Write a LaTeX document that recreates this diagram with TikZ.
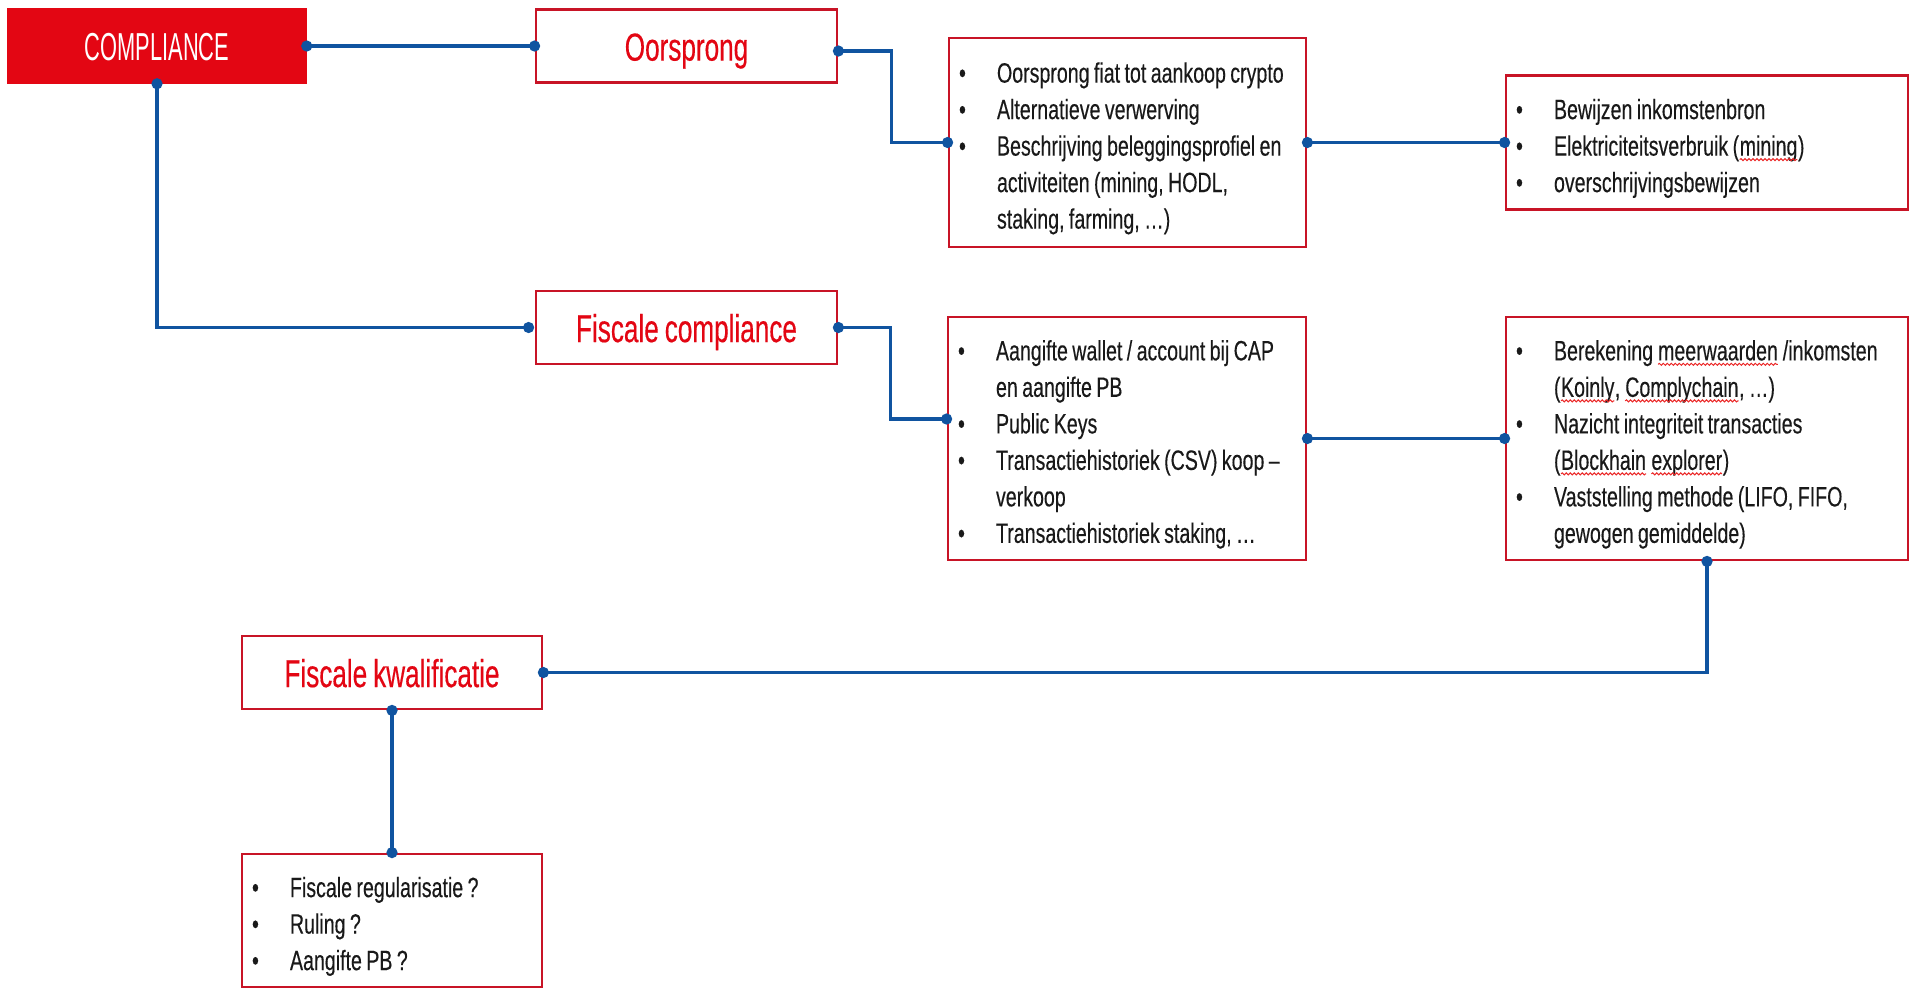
\documentclass[tikz,border=0pt]{standalone}
\usepackage{fontspec}
\usepackage{xcolor}
\usetikzlibrary{positioning, calc, arrows.meta, decorations.pathmorphing}
\setmainfont{Liberation Sans}
\newfontfamily\bodyfont[FakeStretch=0.70, FakeBold=0.3]{Liberation Sans}
\newfontfamily\headfont[FakeStretch=0.67, FakeBold=0.3]{Liberation Sans}
\newfontfamily\rootfont[FakeStretch=0.56]{Liberation Sans}
\newcommand{\headsize}{\fontsize{19.5}{20}\selectfont\spaceskip=3pt\relax}
\newcommand{\bodysize}{\fontsize{14}{18.25}\selectfont}
\definecolor{kred}{RGB}{227,6,19}
\definecolor{kline}{RGB}{200,20,38}
\definecolor{kblue}{RGB}{16,84,160}
\definecolor{ktext}{RGB}{25,25,25}
\definecolor{kwave}{RGB}{235,40,40}
\newcommand{\bit}[1]{\makebox[19pt][l]{\textbullet}\mbox{\spaceskip=2.2pt\relax #1}}
\newcommand{\cnt}[1]{\hspace*{19pt}\mbox{\spaceskip=2.2pt\relax #1}}
\newcommand{\spell}[1]{\tikz[baseline=(w.base), x=1pt, y=1pt]{%
  \node[draw=none, fill=none, inner sep=0pt, outer sep=0pt, minimum width=0pt, minimum height=0pt, text width=, text height=, text depth=, align=none] (w) {#1};%
  \draw[kwave, line width=0.5pt, decorate, decoration={snake, amplitude=0.5pt, segment length=2pt}] ([yshift=-2pt]w.base west) -- ([yshift=-2pt]w.base east);}}
\tikzset{
  rootbox/.style={draw=kred, fill=kred, line width=1.25pt, minimum width=148.5pt, minimum height=36.5pt, inner sep=0pt, text height=14.6pt, text depth=0pt, text=white, font=\rootfont\fontsize{19.5}{20}\selectfont},
  headbox/.style={draw=kline, fill=white, line width=1.4pt, minimum width=150.5pt, minimum height=36.5pt, inner sep=0pt, text height=14.6pt, text depth=0pt, text=kred, font=\headfont\headsize},
  listbox/.style={draw=kline, line width=1.4pt, inner xsep=5pt, inner ysep=0pt, text height=16pt, align=left, text=ktext, font=\bodyfont\bodysize},
  link/.style={draw=kblue, line width=1.6pt, {Circle[length=5.5pt]}-{Circle[length=5.5pt]}, shorten <=-2.75pt, shorten >=-2.75pt}
}

\begin{document}
\begin{tikzpicture}[x=0.5pt,y=-0.5pt]
      \useasboundingbox (0,0) rectangle (1910,993);
      \node[rootbox] (comp) at (157,46) {COMPLIANCE};%root
      \node[headbox] (oors) at (686.5,46) {Oorsprong};
      \node[headbox] (fisc) at (686.5,327.5) {Fiscale compliance};
      \node[headbox, minimum width=150pt] (kwal) at (392,672.5) {Fiscale kwalificatie};
      \node[listbox, text width=168.5pt, minimum height=104.5pt] (orig) at (1127.5,142.5)
        {\bit{Oorsprong fiat tot aankoop crypto}\\ \bit{Alternatieve verwerving}\\ \bit{Beschrijving beleggingsprofiel en}\\ \cnt{activiteiten (mining, HODL,}\\ \cnt{staking, farming, …)}};
      \node[listbox, text width=191pt, minimum height=67pt] (bewijs) at (1707,142.5)
        {\bit{Bewijzen inkomstenbron}\\ \bit{Elektriciteitsverbruik (\spell{mining})}\\ \bit{overschrijvingsbewijzen}};
      \node[listbox, text width=169pt, minimum height=121.5pt] (aangifte) at (1127,438.5)
        {\bit{Aangifte wallet / account bij CAP}\\ \cnt{en aangifte PB}\\ \bit{Public Keys}\\ \bit{Transactiehistoriek (CSV) koop –}\\ \cnt{verkoop}\\ \bit{Transactiehistoriek staking, …}};
      \node[listbox, text width=191pt, minimum height=121.5pt] (bereken) at (1707,438.5)
        {\bit{Berekening \spell{meerwaarden} /inkomsten}\\ \cnt{(\spell{Koinly}, \spell{Complychain}, …)}\\ \bit{Nazicht integriteit transacties}\\ \cnt{(\spell{Blockhain} \spell{explorer})}\\ \bit{Vaststelling methode (LIFO, FIFO,}\\ \cnt{gewogen gemiddelde)}};
      \node[listbox, text width=140pt, minimum height=66.5pt] (vraag) at (392,920.5)
        {\bit{Fiscale regularisatie ?}\\ \bit{Ruling ?}\\ \bit{Aangifte PB ?}};
      \draw[link] (comp.east) -- (oors.west);
      \draw[link] (comp.south) |- ([xshift=-3pt]fisc.west);
      \draw[link] ([yshift=-2.5pt]oors.east) -| ([xshift=-28pt]orig.west) -- (orig.west);
      \draw[link] (orig.east) -- (bewijs.west);
      \draw[link] (fisc.east) -| ([xshift=-28pt,yshift=9.75pt]aangifte.west) -- ([yshift=9.75pt]aangifte.west);
      \draw[link] (aangifte.east) -- (bereken.west);
      \draw[link] (bereken.south) |- (kwal.east);%back
      \draw[link] (kwal.south) -- (vraag.north);
    \end{tikzpicture}
\end{document}
